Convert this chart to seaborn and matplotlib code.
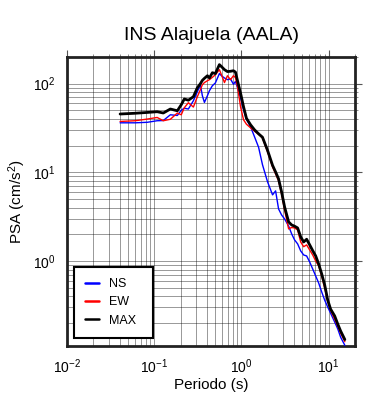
import numpy as np
import pandas as pd
import matplotlib
matplotlib.use("Agg")
import matplotlib.pyplot as plt
import matplotlib.ticker as mticker
import seaborn as sns

# Periods (s)
periods = [0.0406, 0.0605, 0.0832, 0.108, 0.127, 0.153, 0.184, 0.204, 0.221, 0.246,
           0.281, 0.312, 0.338, 0.356, 0.376, 0.407, 0.429, 0.464, 0.502, 0.558,
           0.589, 0.638, 0.690, 0.748, 0.809, 0.853, 0.900, 0.975, 1.055, 1.14,
           1.27, 1.41, 1.57, 1.74, 1.99, 2.27, 2.46, 2.66, 2.88, 3.12,
           3.47, 3.76, 4.06, 4.40, 4.77, 5.16, 5.58, 6.05, 6.55, 7.09,
           7.67, 8.31, 8.99, 9.74, 10.5, 11.7, 12.7, 13.7, 15.3]

psa_max = [45.5, 46.4, 47.4, 48.3, 46.7, 51.8, 49.5, 57.9, 67.2, 65.1,
           71.3, 90.1, 100, 109, 115, 123, 116, 133, 130, 164,
           156, 144, 137, 138, 140, 135, 108, 78.5, 55.0, 40.7,
           34.4, 30.2, 27.2, 24.9, 17.7, 12.0, 10.1, 8.45, 6.03, 4.07,
           2.76, 2.55, 2.47, 2.36, 1.87, 1.64, 1.76, 1.52, 1.31, 1.14,
           0.925, 0.713, 0.536, 0.362, 0.287, 0.240, 0.194, 0.162, 0.130]

psa_ew = [37.5, 38.2, 39.9, 41.6, 38.2, 39.7, 46.7, 44.6, 53.5, 61.0,
          54.5, 71.3, 85.5, 97.4, 103, 108, 111, 118, 126, 144,
          126, 103, 123, 111, 123, 117, 92.5, 55.0, 39.2, 34.9,
          31.8, 29.1, 26.9, 24.5, 17.0, 11.5, 9.62, 8.02, 5.71, 3.77,
          2.30, 2.39, 2.36, 2.24, 1.64, 1.45, 1.52, 1.33, 1.17, 1.00,
          0.879, 0.677, 0.495, 0.353, 0.279, 0.221, 0.184, 0.154, 0.123]

psa_ns = [36.2, 36.2, 36.7, 38.2, 38.4, 44.6, 43.8, 50.2, 52.9, 51.8,
          64.2, 81.2, 97.4, 73.2, 61.5, 73.2, 83.4, 94.9, 102, 130,
          123, 116, 111, 113, 98.7, 106, 90.1, 69.5, 50.8, 39.7,
          32.7, 25.2, 19.2, 12.2, 7.81, 5.57, 6.18, 3.87, 3.31, 2.98,
          2.48, 2.02, 1.73, 1.56, 1.30, 1.17, 1.14, 0.975, 0.813, 0.677,
          0.564, 0.447, 0.362, 0.302, 0.258, 0.205, 0.171, 0.138, 0.112]

components = ["NS", "EW", "MAX"]
title = "INS Alajuela (AALA)"

df = pd.concat([
    pd.DataFrame({"T": periods, "PSA": psa_ns, "comp": "NS"}),
    pd.DataFrame({"T": periods, "PSA": psa_ew, "comp": "EW"}),
    pd.DataFrame({"T": periods, "PSA": psa_max, "comp": "MAX"}),
])

sns.set_style("white")
plt.rcParams["font.family"] = ["Liberation Sans", "DejaVu Sans"]
plt.rcParams["mathtext.fontset"] = "custom"
plt.rcParams["mathtext.rm"] = "Liberation Sans"
plt.rcParams["mathtext.it"] = "Liberation Sans:italic"
plt.rcParams["text.color"] = "black"
plt.rcParams["axes.labelcolor"] = "black"
plt.rcParams["xtick.color"] = "black"
plt.rcParams["ytick.color"] = "black"

fig = plt.figure(figsize=(3.9, 4.0), dpi=100)
ax = fig.add_axes([67/390, 1-346/400, (355-67)/390, (346-57)/400])

sns.lineplot(data=df, x="T", y="PSA", hue="comp", size="comp",
             hue_order=components, size_order=components,
             palette={"NS": "#0000ff", "EW": "#ff0000", "MAX": "#000000"},
             sizes={"NS": 1.0, "EW": 1.0, "MAX": 2.0},
             sort=False, ax=ax, zorder=3)

ax.set_xscale("log")
ax.set_yscale("log")
ax.set_xlim(0.01, 20)
ax.set_ylim(0.11, 200)

ax.xaxis.set_major_locator(mticker.LogLocator(base=10, numticks=10))
ax.xaxis.set_minor_locator(mticker.LogLocator(base=10, subs=np.arange(2, 10), numticks=20))
ax.yaxis.set_major_locator(mticker.LogLocator(base=10, numticks=10))
ax.yaxis.set_minor_locator(mticker.LogLocator(base=10, subs=np.arange(2, 10), numticks=20))
ax.xaxis.set_minor_formatter(mticker.NullFormatter())
ax.yaxis.set_minor_formatter(mticker.NullFormatter())

ax.grid(True, which="both", color="black", linewidth=0.4, alpha=0.7, zorder=0)
ax.set_axisbelow(True)

for s in ax.spines.values():
    s.set_linewidth(2.0)
    s.set_color("#222222")

ax.tick_params(which="major", direction="out", length=5, width=0.8,
               top=True, right=True, labelsize=10, pad=3, color="#555555",
               labelcolor="black")
ax.tick_params(which="minor", direction="out", length=2.5, width=0.6,
               top=True, right=True, color="#777777")

ax.set_xlabel("Periodo (s)", fontsize=11, labelpad=2, color="black")
ax.set_ylabel("PSA (cm/s$^2$)", fontsize=11, labelpad=4, color="black")
ax.set_title(title, fontsize=14, pad=12, color="black")

leg = ax.legend(loc="lower left", bbox_to_anchor=(0.024, 0.028, 79/288, 71/289),
                mode="expand",
                fontsize=9, frameon=True, fancybox=False, framealpha=1,
                edgecolor="black", handlelength=1.1, handletextpad=0.8,
                labelspacing=0.5, borderpad=0.9, borderaxespad=0)
leg.get_frame().set_linewidth(1.5)
for line in leg.get_lines():
    line.set_linewidth(1.8)
for t in leg.get_texts():
    t.set_color("black")

fig.savefig("out.png", dpi=100)
